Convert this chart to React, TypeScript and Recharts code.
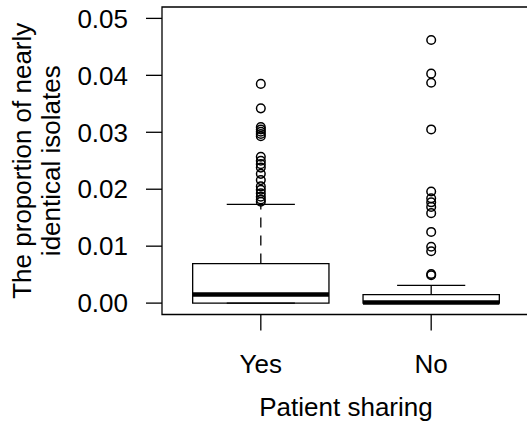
import React from 'react';
import {
  ComposedChart, Scatter, XAxis, YAxis, ReferenceArea, ReferenceLine,
} from 'recharts';

// groups and box statistics
const categories = ['Yes', 'No'];
const positions = [1, 2];
const lowerWhisker = [0, 0];
const q1 = [0, 0];
const medians = [0.0015, 0.0001];
const q3 = [0.00695, 0.00148];
const upperWhisker = [0.01735, 0.0031];

const yesOutliers = [
  0.0385, 0.0342, 0.0309, 0.0305, 0.0301, 0.0297, 0.0293, 0.0257, 0.025, 0.0244,
  0.0238, 0.0227, 0.0216, 0.0205, 0.0199, 0.0193, 0.0187, 0.0182, 0.0178,
];
const noOutliers = [
  0.0462, 0.0403, 0.0387, 0.0305, 0.0196, 0.0184, 0.0177, 0.0169, 0.0158, 0.0125,
  0.0099, 0.0091, 0.0051, 0.0049,
];
const outlierSets = [yesOutliers, noOutliers];

const yTicks = [0, 0.01, 0.02, 0.03, 0.04, 0.05];
const yDomain = [-0.002, 0.052];
const xDomain = [0.42, 2.58];

const FONT = '"Liberation Sans", Arial, Helvetica, sans-serif';
const FS = 26;
const LW = 1.3;
const HALF_BOX = 0.4;
const HALF_CAP = 0.2;

const outlierData = outlierSets.flatMap((vals, i) => vals.map((y) => ({ x: positions[i], y })));

const Ring = (p: { cx?: number; cy?: number }) =>
  p.cx == null || p.cy == null ? null : (
    <circle cx={p.cx} cy={p.cy} r={4.3} fill="none" stroke="#000" strokeWidth={1.5} />
  );

export default function App() {
  return (
    <div style={{ position: 'absolute', left: 0, top: 0, width: 527, height: 429, overflow: 'hidden', background: '#fff' }}>
      <ComposedChart width={540} height={429} margin={{ top: 7, right: 10, bottom: 54.5, left: 62 }}>
        <XAxis
          type="number" dataKey="x" domain={xDomain} ticks={positions} interval={0} allowDataOverflow
          tickFormatter={(v: number) => categories[positions.indexOf(v)] ?? ''}
          axisLine={false} tickLine={{ stroke: '#000', strokeWidth: LW }} tickSize={16} tickMargin={24}
          tick={{ fill: '#000', fontSize: FS, fontFamily: FONT }} height={60}
          label={{
            content: (props: any) => {
              const vb = props.viewBox || {};
              return (
                <text x={vb.x + vb.width / 2} y={416} textAnchor="middle" fontSize={FS} fontFamily={FONT} fill="#000">
                  Patient sharing
                </text>
              );
            },
          }}
        />
        <YAxis
          type="number" dataKey="y" domain={yDomain} ticks={yTicks} interval={0} allowDataOverflow
          tickFormatter={(v: number) => v.toFixed(2)}
          axisLine={false} tickLine={{ stroke: '#000', strokeWidth: LW }} tickSize={16} tickMargin={18}
          tick={{ fill: '#000', fontSize: FS, fontFamily: FONT }} width={100}
          label={{
            content: (props: any) => {
              const vb = props.viewBox || {};
              const cy = vb.y + vb.height / 2;
              return (
                <g fontSize={FS} fontFamily={FONT} fill="#000">
                  <text x={31} y={cy} textAnchor="middle" transform={`rotate(-90 31 ${cy})`}>The proportion of nearly</text>
                  <text x={60} y={cy} textAnchor="middle" transform={`rotate(-90 60 ${cy})`}>identical isolates</text>
                </g>
              );
            },
          }}
        />

        {/* plot frame */}
        <ReferenceArea x1={xDomain[0]} x2={xDomain[1]} y1={yDomain[0]} y2={yDomain[1]} fill="none" stroke="#000" strokeWidth={LW} ifOverflow="visible" />

        {positions.map((p, i) => (
          <ReferenceLine key={`uw${i}`} segment={[{ x: p, y: q3[i] }, { x: p, y: upperWhisker[i] }]} stroke="#000" strokeWidth={LW} strokeDasharray="10 8" ifOverflow="visible" />
        ))}
        {positions.map((p, i) => (
          <ReferenceLine key={`lw${i}`} segment={[{ x: p, y: lowerWhisker[i] }, { x: p, y: q1[i] }]} stroke="#000" strokeWidth={LW} strokeDasharray="10 8" ifOverflow="visible" />
        ))}
        {positions.map((p, i) => (
          <ReferenceLine key={`uc${i}`} segment={[{ x: p - HALF_CAP, y: upperWhisker[i] }, { x: p + HALF_CAP, y: upperWhisker[i] }]} stroke="#000" strokeWidth={LW} ifOverflow="visible" />
        ))}
        {positions.map((p, i) => (
          <ReferenceLine key={`lc${i}`} segment={[{ x: p - HALF_CAP, y: lowerWhisker[i] }, { x: p + HALF_CAP, y: lowerWhisker[i] }]} stroke="#000" strokeWidth={LW} ifOverflow="visible" />
        ))}
        {positions.map((p, i) => (
          <ReferenceArea key={`box${i}`} x1={p - HALF_BOX} x2={p + HALF_BOX} y1={q1[i]} y2={q3[i]} fill="#fff" fillOpacity={1} stroke="#000" strokeWidth={LW} ifOverflow="visible" />
        ))}
        {positions.map((p, i) => (
          <ReferenceLine key={`med${i}`} segment={[{ x: p - HALF_BOX, y: medians[i] }, { x: p + HALF_BOX, y: medians[i] }]} stroke="#000" strokeWidth={4.5} ifOverflow="visible" />
        ))}

        <Scatter data={outlierData} dataKey="y" shape={<Ring />} isAnimationActive={false} />
      </ComposedChart>
    </div>
  );
}
